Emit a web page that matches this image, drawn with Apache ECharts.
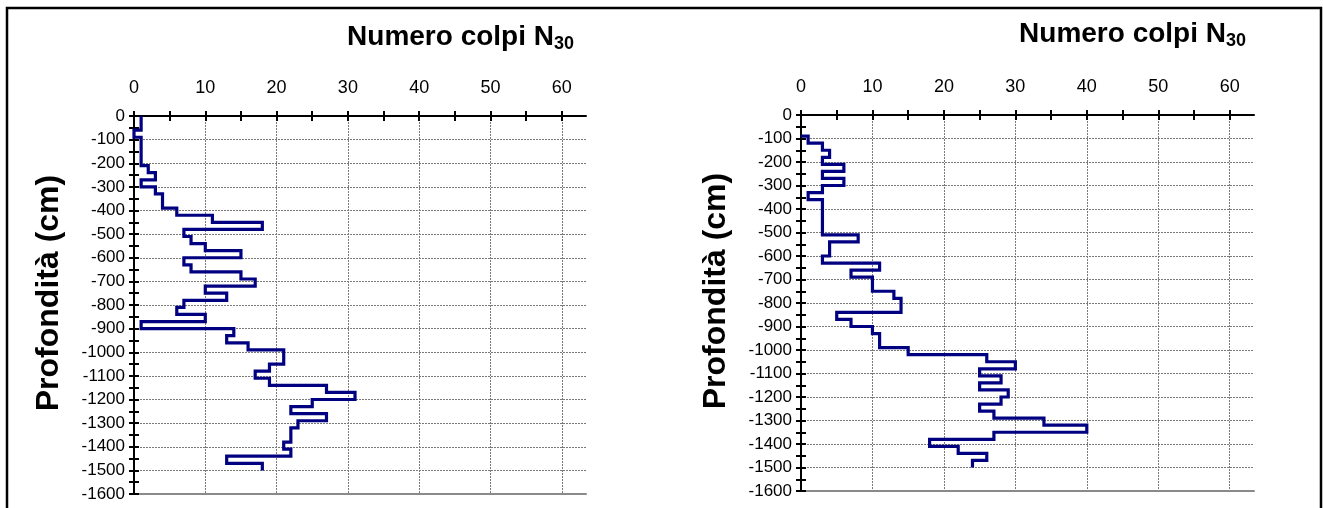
<!DOCTYPE html>
<html>
<head>
<meta charset="utf-8">
<script src="https://cdn.jsdelivr.net/npm/echarts@6/dist/echarts.min.js"></script>
<style>
html,body{margin:0;padding:0;background:#fff;}
#chart{width:1323px;height:508px;}
</style>
</head>
<body>
<div id="chart"></div>
<script>
// ---- data ----
const depthStep = 30; // cm per reading (N30)
const leftStartDepth = 0;
const leftValues = [1,1,0,1,1,1,1,2,3,1, 3,4,4,6,11,18,7,8,10,15, 7,8,15,17,10,13,7,6,10,1, 14,13,16,21,21,19,17,19,27,31, 25,22,27,23,22,22,21,22,13,18];
const rightStartDepth = 90;
const rightValues = [1,3,4,3,6,3,6,3,1,3, 3,3,3,3,8,4,4,3,11,7, 10,10,13,14,14,5,7,10,11,11, 15,26,30,25,28,25,29,28,25,27, 34,40,27,18,22,26,24];
const xLabels = [0,10,20,30,40,50,60];
const xMinorTicks = [0,5,10,15,20,25,30,35,40,45,50,55,60];
const yMin = -1600, yMax = 0;
const titleText = 'Numero colpi N';
const titleSub = '30';
const yName = 'Profondità (cm)';

function stepPath(startDepth, values, step) {
  const pts = [];
  if (startDepth > 0) pts.push([0, -startDepth]);
  let d = startDepth;
  values.forEach(v => {
    pts.push([v, -d]);
    pts.push([v, -(d + step)]);
    d += step;
  });
  return pts;
}
const yTicks = [];
for (let v = yMin; v <= yMax; v += 50) yTicks.push(v);

const FONT = 'Liberation Sans, Arial, sans-serif';
const XMAX = 63.4;
const grids = [
  {left: 134, top: 116, width: 452, height: 378},
  {left: 801, top: 115, width: 453, height: 376}
];
const titleRight = [744, 72];
const titleTop = [14, 11];

const xAxes = [], yAxes = [], series = [], titles = [];
grids.forEach((g, gi) => {
  const base = xAxes.length;
  xAxes.push({
    type: 'value', gridIndex: gi, position: 'top', min: 0, max: XMAX,
    axisLine: {show: true, lineStyle: {color: '#000', width: 2}},
    axisTick: {show: true, inside: false, length: 5, customValues: xMinorTicks, lineStyle: {color: '#000', width: 2}},
    axisLabel: {show: true, customValues: xLabels, margin: 19, fontSize: 18, color: '#000', fontFamily: FONT},
    splitLine: {show: false}
  });
  xAxes.push({
    type: 'value', gridIndex: gi, position: 'top', min: 0, max: XMAX,
    axisLine: {show: false},
    axisTick: {show: true, inside: true, length: 5, customValues: xMinorTicks, lineStyle: {color: '#000', width: 2}},
    axisLabel: {show: false},
    splitLine: {show: false}
  });
  xAxes.push({
    type: 'value', gridIndex: gi, position: 'top', min: 0, max: XMAX, interval: 10,
    axisLine: {show: false}, axisTick: {show: false}, axisLabel: {show: false},
    splitLine: {show: true, showMaxLine: false, lineStyle: {color: '#7a7a7a', width: 1, type: [2, 1]}}
  });
  xAxes.push({
    type: 'value', gridIndex: gi, position: 'bottom', min: 0, max: XMAX,
    axisLine: {show: true, lineStyle: {color: '#8a8a8a', width: 2}},
    axisTick: {show: false}, axisLabel: {show: false}, splitLine: {show: false}
  });

  const yb = yAxes.length;
  yAxes.push({
    type: 'value', gridIndex: gi, position: 'left', min: yMin, max: yMax, interval: 100,
    name: yName, nameLocation: 'middle', nameRotate: 90, nameGap: 69,
    nameTextStyle: {fontSize: 32, fontWeight: 'bold', color: '#000', fontFamily: FONT, padding: [0, 0, 0, 24]},
    axisLine: {show: true, lineStyle: {color: '#000', width: 2}},
    axisTick: {show: true, inside: false, length: 5, customValues: yTicks, lineStyle: {color: '#000', width: 2}},
    axisLabel: {show: true, margin: 9, fontSize: 17, color: '#000', fontFamily: FONT, formatter: v => String(v)},
    splitLine: {show: false}
  });
  yAxes.push({
    type: 'value', gridIndex: gi, position: 'left', min: yMin, max: yMax, interval: 100,
    axisLine: {show: false},
    axisTick: {show: true, inside: true, length: 5, customValues: yTicks, lineStyle: {color: '#000', width: 2}},
    axisLabel: {show: false}, splitLine: {show: false}
  });
  yAxes.push({
    type: 'value', gridIndex: gi, position: 'left', min: yMin, max: yMax, interval: 100,
    axisLine: {show: false}, axisTick: {show: false}, axisLabel: {show: false},
    splitLine: {show: true, lineStyle: {color: '#7a7a7a', width: 1, type: [2, 1]}}
  });

  const data = gi === 0 ? stepPath(leftStartDepth, leftValues, depthStep)
                        : stepPath(rightStartDepth, rightValues, depthStep);
  series.push({
    type: 'line', xAxisIndex: base, yAxisIndex: yb, data: data,
    showSymbol: false, symbol: 'none', silent: true, animation: false, z: 5,
    lineStyle: {color: '#000080', width: 3.2, join: 'miter'}
  });

  titles.push({
    text: '{a|' + titleText + '}{b|' + titleSub + '}',
    right: titleRight[gi],
    top: titleTop[gi],
    textStyle: {
      rich: {
        a: {fontSize: 28, fontWeight: 'bold', color: '#000', fontFamily: FONT, lineHeight: 36},
        b: {fontSize: 18, fontWeight: 'bold', color: '#000', fontFamily: FONT, lineHeight: 36, padding: [14, 0, 0, 0]}
      }
    }
  });
});

const chart = echarts.init(document.getElementById('chart'), null, {renderer: 'canvas'});
chart.setOption({
  animation: false,
  backgroundColor: '#fff',
  title: titles,
  grid: grids.map(g => Object.assign({containLabel: false}, g)),
  xAxis: xAxes,
  yAxis: yAxes,
  series: series,
  graphic: [{
    type: 'rect', silent: true, z: 100,
    shape: {x: 7, y: 8, width: 1314, height: 520},
    style: {fill: 'rgba(0,0,0,0)', stroke: '#000', lineWidth: 2.5}
  }]
});
</script>
</body>
</html>
